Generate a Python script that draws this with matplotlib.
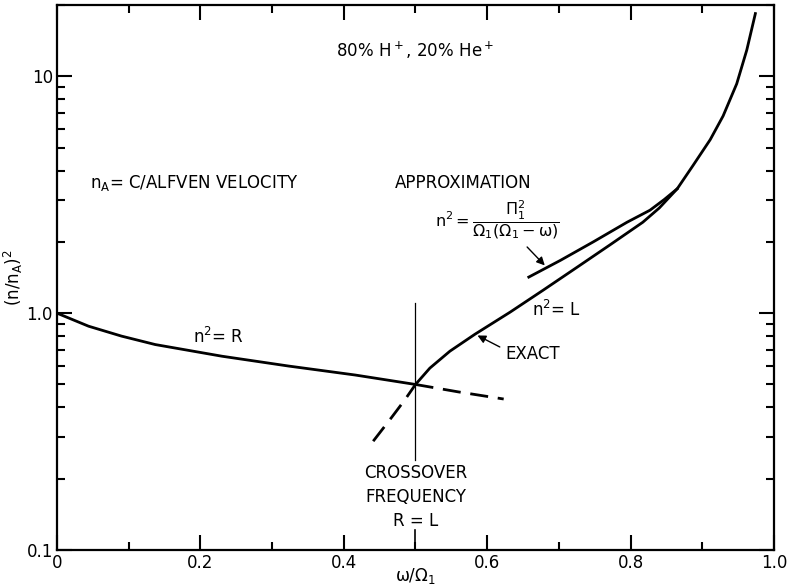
import matplotlib
matplotlib.use("Agg")
import matplotlib.pyplot as plt
from matplotlib.ticker import FixedLocator, LogLocator, NullFormatter, FixedFormatter

plt.rcParams["font.family"] = ["DejaVu Sans"]
plt.rcParams["mathtext.fontset"] = "dejavusans"
plt.rcParams["mathtext.default"] = "regular"

# egriler (w/Omega1, (n/nA)^2)
r_w = [0.0, 0.044, 0.090, 0.137, 0.230, 0.323, 0.416, 0.500]
r_n2 = [1.0, 0.881, 0.80, 0.737, 0.658, 0.598, 0.548, 0.500]

# R devami (kesikli)
r_dash_w = [0.500, 0.560, 0.623]
r_dash_n2 = [0.500, 0.465, 0.434]

# L devami, kesisim altinda (kesikli)
l_dash_w = [0.441, 0.467, 0.485, 0.500]
l_dash_n2 = [0.288, 0.364, 0.430, 0.500]

# exact n^2 = L
l_w = [0.500, 0.520, 0.548, 0.583, 0.632, 0.678, 0.725, 0.771, 0.817, 0.840,
       0.865, 0.887, 0.911, 0.929, 0.948, 0.962, 0.974]
l_n2 = [0.500, 0.586, 0.691, 0.815, 1.01, 1.25, 1.56, 1.94, 2.42, 2.78,
        3.35, 4.2, 5.4, 6.8, 9.3, 12.9, 18.4]

# yaklasim egrisi
ap_w = [0.658, 0.702, 0.748, 0.795, 0.827, 0.847, 0.865]
ap_n2 = [1.42, 1.67, 2.0, 2.42, 2.72, 3.02, 3.35]

crossover_w = 0.5

xticks = [0, 0.2, 0.4, 0.6, 0.8, 1.0]
xtick_labels = ["0", "0.2", "0.4", "0.6", "0.8", "1.0"]
yticks = [0.1, 1.0, 10]
ytick_labels = ["0.1", "1.0", "10"]

fig = plt.figure(figsize=(7.87, 5.87), dpi=100)
ax = fig.add_axes([0.0724, 0.063, 0.9111, 0.9285])

ax.set_yscale("log")
ax.set_xlim(0, 1.0)
ax.set_ylim(0.1, 20)

ax.plot(r_w, r_n2, color="k", lw=2)
ax.plot(l_w, l_n2, color="k", lw=2)
ax.plot(ap_w, ap_n2, color="k", lw=2)
ax.plot(r_dash_w, r_dash_n2, color="k", lw=2, dashes=(6.5, 3.5))
ax.plot(l_dash_w, l_dash_n2, color="k", lw=2, dashes=(6.5, 3.5))

# kesisim frekansi cizgisi
ax.plot([crossover_w, crossover_w], [0.24, 1.10], color="k", lw=0.9)
ax.plot([crossover_w, crossover_w], [0.1, 0.121], color="k", lw=1.2)

# eksenler, tikler iceride
for s in ax.spines.values():
    s.set_linewidth(1.6)
ax.xaxis.set_major_locator(FixedLocator(xticks))
ax.xaxis.set_major_formatter(FixedFormatter(xtick_labels))
ax.xaxis.set_minor_locator(FixedLocator([0.1, 0.3, 0.5, 0.7, 0.9]))
ax.yaxis.set_major_locator(FixedLocator(yticks))
ax.yaxis.set_major_formatter(FixedFormatter(ytick_labels))
ax.yaxis.set_minor_locator(LogLocator(base=10, subs=range(2, 10)))
ax.yaxis.set_minor_formatter(NullFormatter())
ax.tick_params(which="both", direction="in", top=True, right=True,
               labelsize=12, pad=3)
ax.tick_params(which="major", length=10.5, width=1.5)
ax.tick_params(which="minor", length=5.5, width=1.5)

ax.set_xlabel(r"$\omega/\Omega_1$", fontsize=12)
ax.set_ylabel(r"$(n/n_A)^2$", fontsize=12)
ax.xaxis.set_label_coords(0.5, -0.029)
ax.yaxis.set_label_coords(-0.045, 0.5)

# yazilar
ax.text(0.5, 12.9, r"80% H$^+$, 20% He$^+$", fontsize=12, ha="center", va="center")
ax.text(0.046, 3.54, r"$n_A$= C/ALFVEN VELOCITY", fontsize=12, ha="left", va="center")
ax.text(0.471, 3.54, "APPROXIMATION", fontsize=12, ha="left", va="center")
ax.text(0.527, 2.47, r"$n^2 = \dfrac{\Pi_1^2}{\Omega_1(\Omega_1-\omega)}$",
        fontsize=11.5, ha="left", va="center")
ax.text(0.662, 1.03, r"$n^2$= L", fontsize=12, ha="left", va="center")
ax.text(0.19, 0.79, r"$n^2$= R", fontsize=12, ha="left", va="center")
ax.text(0.625, 0.675, "EXACT", fontsize=12, ha="left", va="center")
ax.text(crossover_w, 0.1675, "CROSSOVER\nFREQUENCY\nR = L", fontsize=12,
        ha="center", va="center", linespacing=1.45)

ax.annotate("", xy=(0.683, 1.56), xytext=(0.653, 1.94),
            arrowprops=dict(arrowstyle="-|>", color="k", lw=1, mutation_scale=12))
ax.annotate("", xy=(0.583, 0.815), xytext=(0.621, 0.711),
            arrowprops=dict(arrowstyle="-|>", color="k", lw=1, mutation_scale=12))

fig.savefig("out.png", dpi=100)
